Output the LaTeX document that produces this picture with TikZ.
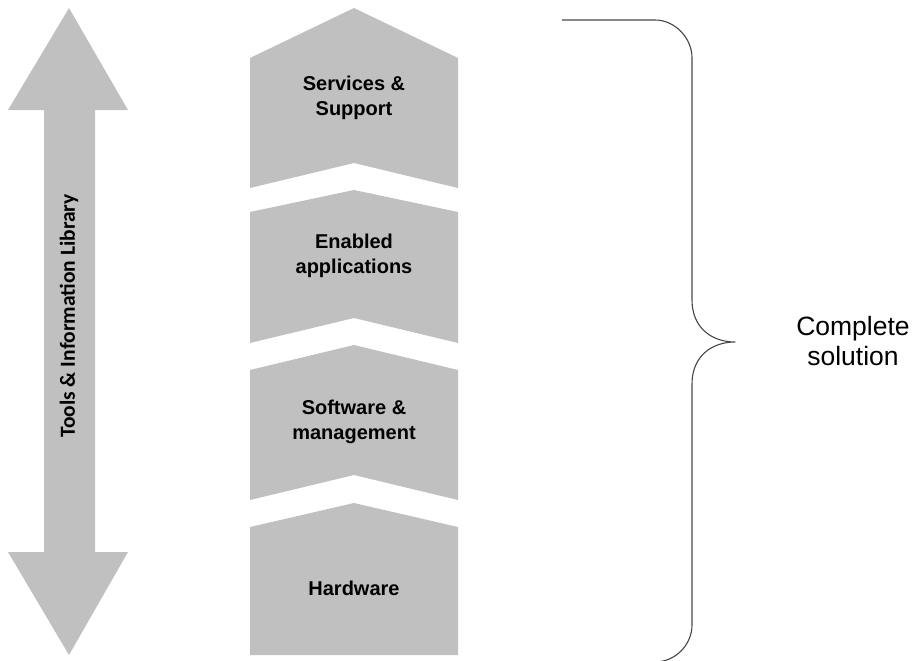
\documentclass[tikz,border=0pt]{standalone}
\usepackage{fontspec}
\setmainfont{Liberation Sans}
\newfontfamily\calfont{Carlito}
\definecolor{boxgray}{RGB}{192,192,192}
\definecolor{bracegray}{RGB}{70,70,70}
\begin{document}
\begin{tikzpicture}[x=1pt,y=-1pt,
  shapefill/.style={fill=boxgray,draw=none},
  chevlabel/.style={align=center,font=\fontsize{20}{25}\selectfont\bfseries,text=black,inner sep=0pt},
  bracestyle/.style={draw=bracegray,line width=1.1pt,line join=round},
  sidelabel/.style={align=center,font=\fontsize{26.5}{30}\selectfont,text=black,inner sep=0pt}]
\useasboundingbox (0,0) rectangle (913,661);
% double arrow
\fill[shapefill] (69,8) -- (128,110) -- (95,110) -- (95,552) -- (128,552) -- (69,655)
  -- (8,552) -- (44,552) -- (44,110) -- (8,110) -- cycle;
\node[rotate=90,font=\calfont\fontsize{21.5}{24}\selectfont\bfseries,inner sep=0pt] (tools) at (69,316) {Tools \& Information Library};
% chevrons
\fill[shapefill] (250,58) -- (354,8) -- (458,58) -- (458,188) -- (354,163) -- (250,188) -- cycle;
\fill[shapefill] (250,212) -- (354,190) -- (458,212) -- (458,343) -- (354,318) -- (250,343) -- cycle;
\fill[shapefill] (250,370) -- (354,345) -- (458,370) -- (458,500) -- (354,475) -- (250,500) -- cycle;
\fill[shapefill] (250,527) -- (354,503) -- (458,527) -- (458,655) -- (250,655) -- cycle;
\node[chevlabel] (services) at (354,98) {Services \&\\Support};
\node[chevlabel] (enabled) at (354,256) {Enabled\\applications};
\node[chevlabel] (software) at (354,422) {Software \&\\management};
\node[chevlabel] (hardware) at (354,588) {Hardware};
% brace
\draw[bracestyle] (562,20) -- (655,20) .. controls (675,20) and (692,38) .. (692,58)
  -- (692,300) .. controls (692,328) and (712,342) .. (735,342)
  .. controls (712,342) and (692,356) .. (692,384)
  -- (692,625) .. controls (692,645) and (675,662) .. (655,662) -- (562,662);
\node[sidelabel] (complete) at (853,341) {Complete\\solution};
\end{tikzpicture}
\end{document}
